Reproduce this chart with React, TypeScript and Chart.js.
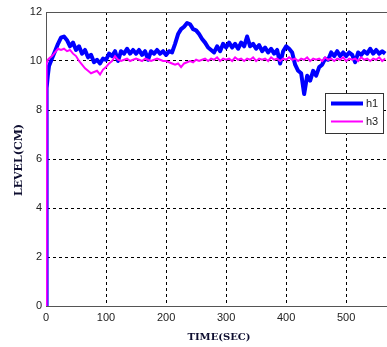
import React, { useEffect, useRef } from "react";
import { Chart, registerables } from "chart.js";

Chart.register(...registerables);

const time = [0, 1, 3, 5, 10, 15, 20, 25, 30, 35, 40, 45, 50, 55, 60, 65, 70, 75, 80, 85, 90, 95, 100, 105, 110, 115, 120, 125, 130, 135, 140, 145, 150, 155, 160, 165, 170, 175, 180, 185, 190, 195, 200, 205, 210, 215, 220, 225, 230, 235, 240, 245, 250, 255, 260, 265, 270, 275, 280, 285, 290, 295, 300, 305, 310, 315, 320, 325, 330, 335, 340, 345, 350, 355, 360, 365, 370, 375, 380, 385, 390, 395, 400, 405, 410, 415, 420, 425, 430, 435, 440, 445, 450, 455, 460, 465, 470, 475, 480, 485, 490, 495, 500, 505, 510, 515, 520, 525, 530, 535, 540, 545, 550, 555, 560, 565];

const h1 = [0, 8.9, 9.4, 9.8, 10.1, 10.4, 10.7, 10.95, 11.0, 10.85, 10.6, 10.75, 10.45, 10.6, 10.3, 10.45, 10.15, 10.25, 9.95, 10.05, 9.9, 10.1, 10.05, 10.3, 10.2, 10.4, 10.0, 10.4, 10.3, 10.5, 10.3, 10.45, 10.3, 10.45, 10.25, 10.4, 10.05, 10.4, 10.3, 10.45, 10.3, 10.4, 10.25, 10.4, 10.35, 10.7, 11.1, 11.3, 11.4, 11.55, 11.5, 11.3, 11.25, 11.1, 10.9, 10.75, 10.55, 10.45, 10.35, 10.6, 10.4, 10.7, 10.55, 10.75, 10.55, 10.7, 10.5, 10.75, 10.6, 11.0, 10.6, 10.7, 10.5, 10.65, 10.4, 10.55, 10.35, 10.5, 10.3, 10.45, 9.9, 10.4, 10.6, 10.5, 10.35, 9.85, 9.6, 9.5, 8.65, 9.4, 9.2, 9.6, 9.4, 9.75, 9.85, 10.1, 10.05, 10.35, 10.2, 10.4, 10.2, 10.35, 10.2, 10.35, 10.25, 9.95, 10.35, 10.25, 10.4, 10.3, 10.5, 10.3, 10.45, 10.3, 10.4, 10.3];

const h3 = [0, 9.9, 10.05, 10.1, 10.2, 10.35, 10.5, 10.45, 10.5, 10.4, 10.45, 10.3, 10.2, 10.0, 9.85, 9.7, 9.6, 9.5, 9.55, 9.6, 9.45, 9.65, 9.75, 9.9, 10.0, 10.2, 10.05, 10.0, 10.05, 10.1, 10.0, 10.05, 10.1, 10.05, 10.0, 10.1, 10.05, 10.0, 10.05, 10.1, 10.05, 10.0, 10.0, 9.95, 9.9, 9.85, 9.9, 9.75, 9.9, 9.95, 10.0, 9.95, 10.05, 10.0, 10.05, 10.1, 10.0, 10.1, 10.05, 10.15, 10.0, 10.1, 10.05, 10.1, 10.0, 10.15, 10.05, 10.1, 10.0, 10.1, 10.05, 10.15, 10.0, 10.1, 10.05, 10.1, 10.0, 10.15, 10.05, 10.1, 10.0, 10.1, 10.05, 10.15, 10.05, 10.1, 10.0, 10.1, 10.05, 10.15, 10.0, 10.1, 10.05, 10.1, 10.0, 10.15, 10.05, 10.1, 10.0, 10.1, 10.05, 10.15, 10.0, 10.1, 10.05, 10.1, 10.0, 10.15, 10.05, 10.1, 10.0, 10.1, 10.05, 10.15, 10.0, 10.1];

const seriesNames = ["h1", "h3"];
const yTitle = "LEVEL(CM)";
const xTitle = "TIME(SEC)";

const BLUE = "#0000ff";
const MAGENTA = "#ff00ff";

const overlay = {
  id: "overlay",
  afterDatasetsDraw(chart: any) {
    const { ctx, chartArea } = chart;
    ctx.save();
    ctx.strokeStyle = "#555";
    ctx.lineWidth = 1;
    ctx.setLineDash([]);
    ctx.beginPath();
    ctx.moveTo(chartArea.left, chartArea.top + 0.5);
    ctx.lineTo(chartArea.right, chartArea.top + 0.5);
    ctx.stroke();
    const lx = 325, ly = 93, lw = 58, lh = 40;
    ctx.fillStyle = "#fff";
    ctx.fillRect(lx, ly, lw, lh);
    ctx.strokeStyle = "#333";
    ctx.strokeRect(lx + 0.5, ly + 0.5, lw, lh);
    ctx.lineCap = "butt";
    ctx.strokeStyle = BLUE;
    ctx.lineWidth = 4;
    ctx.beginPath();
    ctx.moveTo(331, 103.5);
    ctx.lineTo(363, 103.5);
    ctx.stroke();
    ctx.strokeStyle = MAGENTA;
    ctx.lineWidth = 2;
    ctx.beginPath();
    ctx.moveTo(331, 121.5);
    ctx.lineTo(363, 121.5);
    ctx.stroke();
    ctx.fillStyle = "#222";
    ctx.font = "11px 'Liberation Sans', Arial, sans-serif";
    ctx.textBaseline = "middle";
    ctx.textAlign = "left";
    ctx.fillText(seriesNames[0], 366, 104);
    ctx.fillText(seriesNames[1], 366, 122);
    ctx.restore();
  },
  afterDraw(chart: any) {
    const { ctx } = chart;
    ctx.save();
    ctx.fillStyle = "#0e0e30";
    ctx.textAlign = "center";
    ctx.textBaseline = "middle";
    ctx.font = "bold 11px 'DejaVu Serif', serif";
    ctx.save();
    ctx.translate(19.5, 160);
    ctx.rotate(-Math.PI / 2);
    ctx.fillText(yTitle, 0, 0, 77);
    ctx.restore();
    ctx.font = "bold 10px 'DejaVu Serif', serif";
    ctx.fillText(xTitle, 219, 337, 64);
    ctx.restore();
  },
};

export default function App() {
  const ref = useRef<HTMLCanvasElement>(null);
  useEffect(() => {
    const canvas = ref.current!;
    const tickFont = { family: "'Liberation Sans', Arial, sans-serif", size: 11 };
    const chart = new Chart(canvas, {
      type: "line",
      data: {
        datasets: [
          {
            label: seriesNames[0],
            data: time.map((t, i) => ({ x: t, y: h1[i] })),
            borderColor: BLUE,
            borderWidth: 4,
            pointRadius: 0,
            tension: 0,
            order: 2,
            borderJoinStyle: "round",
          },
          {
            label: seriesNames[1],
            data: time.map((t, i) => ({ x: t, y: h3[i] })),
            borderColor: MAGENTA,
            borderWidth: 2,
            pointRadius: 0,
            tension: 0,
            order: 1,
          },
        ],
      },
      options: {
        responsive: false,
        animation: false,
        layout: { padding: { top: 12, left: 0, right: 0, bottom: 0 } },
        plugins: { legend: { display: false }, tooltip: { enabled: false } },
        scales: {
          x: {
            type: "linear",
            min: 0,
            max: 568,
            afterFit: (s: any) => { s.height = 41; },
            ticks: { stepSize: 100, includeBounds: false, padding: 5, color: "#222", font: tickFont, maxRotation: 0 },
            grid: { color: "#000", lineWidth: 1, drawTicks: false },
            border: { color: "#555", width: 1, dash: [3, 3] },
          },
          y: {
            min: 0,
            max: 12,
            afterFit: (s: any) => { s.width = 46; },
            ticks: { stepSize: 2, padding: 4, color: "#222", font: tickFont },
            grid: { color: "#000", lineWidth: 1, drawTicks: false },
            border: { color: "#555", width: 1, dash: [3, 3] },
          },
        },
      },
      plugins: [overlay],
    } as any);
    return () => chart.destroy();
  }, []);
  return (
    <div style={{ position: "absolute", left: 0, top: 0, width: 387, height: 347, background: "#fff" }}>
      <canvas ref={ref} width={387} height={347} />
    </div>
  );
}
